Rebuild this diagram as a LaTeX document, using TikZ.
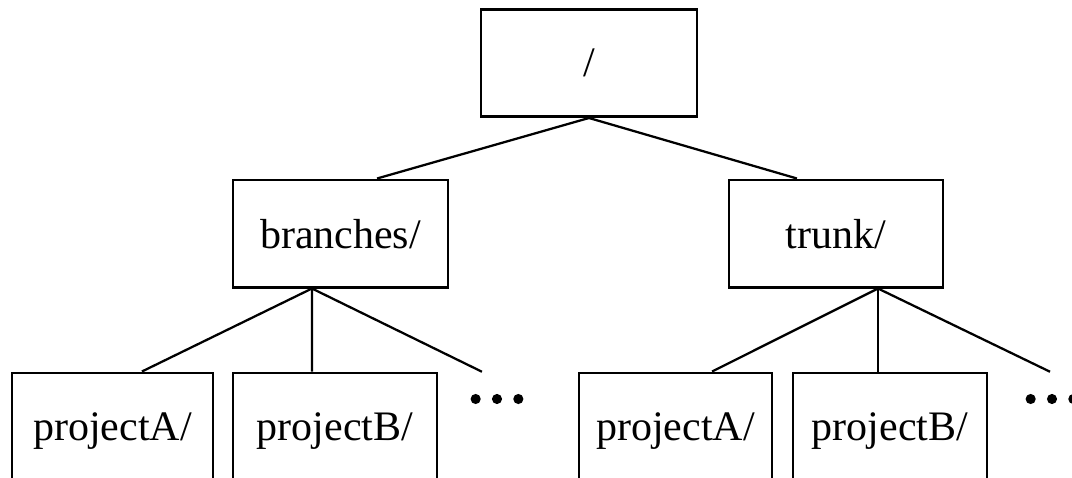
\documentclass[tikz,border=0pt]{standalone}
\usepackage{fontspec}
\setmainfont{Liberation Serif}
\usetikzlibrary{positioning}

\begin{document}
\begin{tikzpicture}[x=0.75pt,y=-0.75pt,
dirnode/.style={rectangle, draw, line width=2pt, minimum height=80.5pt, inner sep=0pt, text depth=0pt, font=\fontsize{31.5}{38}\selectfont},
morenode/.style={rectangle, minimum width=50pt, minimum height=40.5pt, inner sep=0pt},
link/.style={line width=1.7pt},
]
\useasboundingbox (0,0) rectangle (1072,478);
%Nodes
\node[dirnode, minimum width=162pt]   (root)     at (589,63)    {/};
\node[dirnode, minimum width=161.3pt] (branches) at (340.5,233.5) {branches/};
\node[dirnode, minimum width=160.5pt] (trunk)    at (836,233.5) {trunk/};
\node[dirnode, minimum width=150.8pt] (branchA)  at (112.5,426.5) {projectA/};
\node[dirnode, minimum width=153pt]   (branchB)  at (335,426.5) {projectB/};
\node[morenode] (branchmore) at (497,399) {};
\node[dirnode, minimum width=144.8pt] (trunkA)   at (675.5,426.5) {projectA/};
\node[dirnode, minimum width=145.5pt] (trunkB)   at (890,426.5) {projectB/};
\node[morenode] (trunkmore) at (1052,399) {};

%Dots
\foreach \n in {branchmore,trunkmore}
  \foreach \dx in {-16,0,16}
    \fill ([xshift=\dx pt]\n.center) circle (3.8pt);

%Lines
\draw[link] (root.south) -- ([xshift=27.4pt]branches.north);
\draw[link] (root.south) -- ([xshift=-29.3pt]trunk.north);
\draw[link] ([xshift=-21.4pt]branches.south) -- ([xshift=22.1pt]branchA.north);
\draw[link] ([xshift=-21.4pt]branches.south) -- ([xshift=-17.25pt]branchB.north);
\draw[link] ([xshift=-21.4pt]branches.south) -- ([xshift=-11.3pt]branchmore.north);
\draw[link] ([xshift=31.5pt]trunk.south) -- ([xshift=27.4pt]trunkA.north);
\draw[link] ([xshift=31.5pt]trunk.south) -- ([xshift=-9pt]trunkB.north);
\draw[link] ([xshift=31.5pt]trunk.south) -- ([xshift=-1.5pt]trunkmore.north);
\end{tikzpicture}
\end{document}
